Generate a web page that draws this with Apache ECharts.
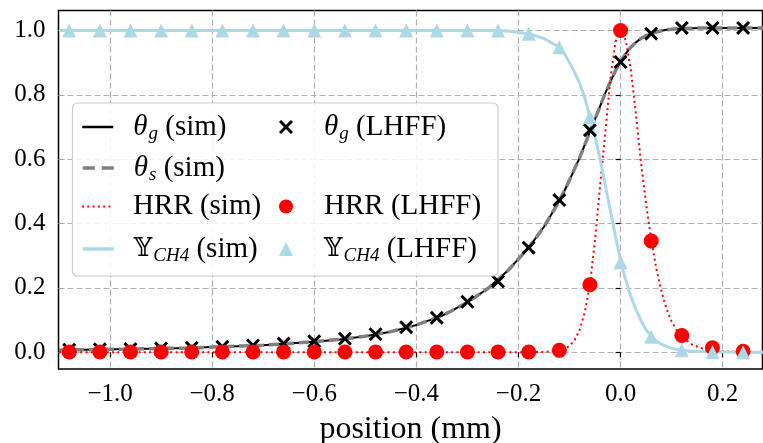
<!DOCTYPE html>
<html>
<head>
<meta charset="utf-8">
<script src="https://cdn.jsdelivr.net/npm/echarts@6/dist/echarts.min.js"></script>
<style>
html,body{margin:0;padding:0;background:#fff;}
#c{width:763px;height:443px;}
</style>
</head>
<body>
<div id="c"></div>
<script>
// ---------- data ----------
const lhffX = [-1.08,-1.02,-0.96,-0.90,-0.84,-0.78,-0.72,-0.66,-0.60,-0.54,-0.48,-0.42,-0.36,-0.30,-0.24,-0.18,-0.12,-0.06,0.00,0.06,0.12,0.18,0.24];
const thetaG_LHFF = [0.008,0.009,0.010,0.012,0.014,0.017,0.021,0.027,0.034,0.042,0.056,0.078,0.107,0.157,0.220,0.325,0.473,0.690,0.902,0.990,1.008,1.008,1.008];
const hrr_LHFF = [0.001,0.001,0.001,0.001,0.001,0.001,0.001,0.001,0.001,0.001,0.001,0.001,0.001,0.001,0.001,0.001,0.006,0.210,1.000,0.346,0.052,0.014,0.003];
const ych4_LHFF = [1.0,1.0,1.0,1.0,1.0,1.0,1.0,1.0,1.0,1.0,1.0,1.0,1.0,1.0,1.0,0.990,0.948,0.731,0.280,0.048,0.006,0.001,0.0];

const simX = [-1.10,-1.05,-1.00,-0.95,-0.90,-0.85,-0.80,-0.75,-0.70,-0.65,-0.60,-0.55,-0.50,-0.45,-0.40,-0.35,-0.30,-0.26,-0.22,-0.18,-0.15,
  -0.12,-0.11,-0.10,-0.09,-0.08,-0.07,-0.06,-0.05,-0.04,-0.03,-0.02,-0.01,0.00,0.01,0.02,0.03,0.04,0.05,0.06,0.07,0.08,0.09,0.10,0.11,0.12,
  0.14,0.16,0.18,0.20,0.24,0.28];
const thetaG_sim = [0.007,0.008,0.009,0.010,0.012,0.013,0.016,0.019,0.022,0.027,0.033,0.040,0.050,0.064,0.085,0.113,0.155,0.198,0.255,0.325,0.390,
  0.470,0.502,0.535,0.570,0.605,0.645,0.685,0.725,0.765,0.805,0.840,0.875,0.903,0.928,0.948,0.963,0.975,0.984,0.990,0.995,0.999,1.002,1.004,1.005,1.006,
  1.007,1.008,1.008,1.008,1.008,1.008];
const thetaS_sim = [0.007,0.008,0.009,0.010,0.012,0.013,0.016,0.019,0.022,0.027,0.033,0.040,0.050,0.064,0.085,0.113,0.155,0.198,0.255,0.325,0.390,
  0.470,0.502,0.535,0.570,0.605,0.645,0.685,0.725,0.765,0.805,0.840,0.875,0.903,0.928,0.948,0.963,0.975,0.984,0.990,0.995,0.999,1.002,1.004,1.005,1.006,
  1.007,1.008,1.008,1.008,1.008,1.008];
const hrr_sim = [0,0,0,0,0,0,0,0,0,0,0,0,0,0,0,0,0,0,0,0,0.001,
  0.005,0.010,0.020,0.038,0.070,0.125,0.210,0.350,0.520,0.680,0.850,0.965,1.000,0.970,0.880,0.740,0.590,0.460,0.350,0.260,0.190,0.135,0.095,0.068,0.048,
  0.024,0.012,0.006,0.003,0.001,0.0];
const ych4_sim = [1,1,1,1,1,1,1,1,1,1,1,1,1,1,1,1,1,1,0.998,0.990,0.975,
  0.948,0.928,0.900,0.870,0.835,0.790,0.731,0.670,0.600,0.520,0.440,0.360,0.285,0.225,0.175,0.133,0.098,0.070,0.050,0.035,0.025,0.018,0.013,0.009,0.006,
  0.003,0.002,0.001,0.001,0.0,0.0];

const xTicks = [-1.0,-0.8,-0.6,-0.4,-0.2,0.0,0.2];
const yTicks = [0.0,0.2,0.4,0.6,0.8,1.0];

// ---------- helpers ----------
const pair = (xs, ys) => xs.map((x, i) => [x, ys[i]]);
const FONT = "'Liberation Serif','DejaVu Serif',serif";
const fmtTick = v => (Math.round(v * 10) / 10).toFixed(1).replace('-', '\u2212');
const XMARK = 'path://M0,1.5L1.5,0L5,3.5L8.5,0L10,1.5L6.5,5L10,8.5L8.5,10L5,6.5L1.5,10L0,8.5L3.5,5Z';

const names = {
  tg: '{it|θ}{sub|g}{n| (sim)}',
  ts: '{it|θ}{sub|s}{n| (sim)}',
  hs: '{n|HRR (sim)}',
  ys: '{bb|𝕐}{sub|CH4}{n| (sim)}',
  tl: '{it|θ}{sub|g}{n| (LHFF)}',
  hl: '{n|HRR (LHFF)}',
  yl: '{bb|𝕐}{sub|CH4}{n| (LHFF)}'
};
const FS = 29;
const rich = {
  n: {fontFamily: FONT, fontSize: FS, lineHeight: 32, color: '#000'},
  it: {fontFamily: FONT, fontSize: FS, fontStyle: 'italic', lineHeight: 32, color: '#000'},
  bb: {fontFamily: "'DejaVu Serif','DejaVu Sans',serif", fontSize: 26, lineHeight: 32, color: '#000'},
  sub: {fontFamily: FONT, fontSize: 19, fontStyle: 'italic', lineHeight: 32, padding: [13, 0, 0, 1], color: '#000'}
};

// legend layout: [key, left, top, itemWidth, textPad, hideSymbol]
const legendLayout = [
  ['tg', 81, 111, 31, 15, true],
  ['ts', 81, 152, 31, 15, true],
  ['hs', 81, 192, 31, 15, true],
  ['ys', 81, 233, 31, 15, true],
  ['tl', 279, 111, 14, 26, false],
  ['hl', 279, 192, 14, 26, false],
  ['yl', 279, 233, 14, 26, false]
];
const legends = legendLayout.map(([k, l, t, w, p, hide]) => ({
  left: l, top: t, padding: 0, itemWidth: w, itemHeight: 14,
  selectedMode: false,
  data: [hide ? {name: k, itemStyle: {opacity: 0}} : {name: k}],
  formatter: n => names[n],
  textStyle: {fontFamily: FONT, fontSize: FS, color: '#000', padding: [0, 0, 0, p], rich: rich}
}));
legends[1].data[0].lineStyle = {type: [12, 7], width: 3.5};
legends[0].data[0].lineStyle = {width: 2.5};
legends[3].data[0].lineStyle = {width: 3.5};

const gridLine = {show: true, lineStyle: {color: '#b0b0b0', width: 1.2, type: [6, 3]}};
const chart = echarts.init(document.getElementById('c'), null, {renderer: 'canvas'});
chart.setOption({
  animation: false,
  backgroundColor: '#fff',
  grid: {left: 58.5, right: 0.5, top: 10.5, bottom: 74, containLabel: false, outerBoundsMode: 'none',
         show: true, borderColor: '#000', borderWidth: 1.5, backgroundColor: 'transparent'},
  xAxis: {
    type: 'value', min: -1.101, max: 0.278,
    name: 'position (mm)', nameLocation: 'middle', nameGap: 45,
    nameTextStyle: {fontFamily: FONT, fontSize: 32, color: '#000'},
    axisLine: {show: false},
    axisTick: {show: true, length: 5, customValues: xTicks, lineStyle: {color: '#000', width: 1.2}},
    axisLabel: {margin: 13, customValues: xTicks, fontFamily: FONT, fontSize: 25, color: '#000', formatter: fmtTick},
    splitLine: gridLine
  },
  yAxis: {
    type: 'value', min: -0.052, max: 1.062,
    axisLine: {show: false},
    axisTick: {show: true, length: 5, customValues: yTicks, lineStyle: {color: '#000', width: 1.2}},
    axisLabel: {margin: 13, customValues: yTicks, fontFamily: FONT, fontSize: 25, color: '#000', formatter: fmtTick},
    splitLine: gridLine
  },
  legend: legends,
  graphic: [{
    type: 'rect', z: 3,
    shape: {x: 72.5, y: 103, width: 425.5, height: 173, r: 5},
    style: {fill: 'rgba(255,255,255,0.85)', stroke: '#cccccc', lineWidth: 1.2}
  }],
  series: [
    {name: 'tg', type: 'line', data: pair(simX, thetaG_sim), symbol: 'none', showSymbol: false, color: '#000',
     lineStyle: {color: '#000', width: 2}, z: 2},
    {name: 'ts', type: 'line', data: pair(simX, thetaS_sim), symbol: 'none', showSymbol: false, color: '#808080',
     lineStyle: {color: '#808080', width: 3.5, type: [10, 5]}, z: 2},
    {name: 'hs', type: 'line', data: pair(simX, hrr_sim), symbol: 'none', showSymbol: false, color: '#ff0000',
     lineStyle: {color: '#ff0000', width: 2, type: [2, 3.3]}, z: 2},
    {name: 'ys', type: 'line', data: pair(simX, ych4_sim), symbol: 'none', showSymbol: false, color: '#add8e6',
     lineStyle: {color: '#add8e6', width: 3}, z: 2},
    {name: 'tl', type: 'scatter', data: pair(lhffX, thetaG_LHFF), symbol: XMARK, symbolSize: 14,
     itemStyle: {color: '#000', opacity: 1}, z: 2},
    {name: 'hl', type: 'scatter', data: pair(lhffX, hrr_LHFF), symbol: 'circle', symbolSize: 15,
     itemStyle: {color: '#ff0000', opacity: 1}, z: 2},
    {name: 'yl', type: 'scatter', data: pair(lhffX, ych4_LHFF), symbol: 'triangle', symbolSize: 14,
     itemStyle: {color: '#add8e6', opacity: 1}, z: 2}
  ]
});
</script>
</body>
</html>
